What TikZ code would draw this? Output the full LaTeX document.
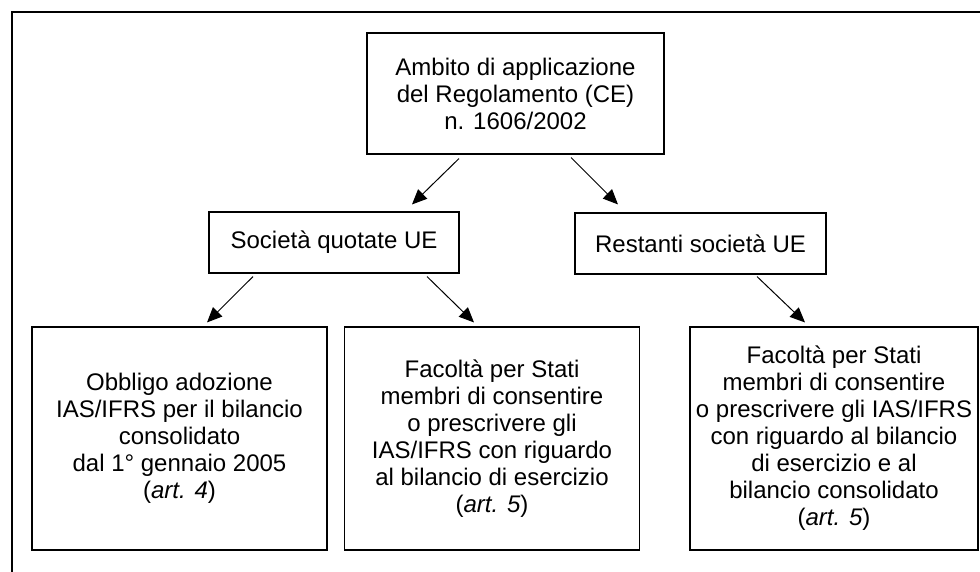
\documentclass[tikz,border=0pt]{standalone}
\usepackage{fontspec}
\setmainfont{Liberation Sans}
\usetikzlibrary{arrows.meta}
\begin{document}
\begin{tikzpicture}[x=1pt,y=-1pt,
  box/.style={draw, line width=1.1pt, align=center, inner sep=0pt, font=\fontsize{24}{27}\selectfont},
  arr/.style={line width=1pt, -{Triangle[length=15pt,width=13pt]}}]
\useasboundingbox (0,0) rectangle (980,572);
\fill[white] (0,0) rectangle (980,572);
\draw[line width=2.5pt] (12,572) -- (12,12) -- (980,12);

\node[box, minimum width=297pt, minimum height=121pt] (top) at (515.5,93.5)
  {Ambito di applicazione\\del Regolamento (CE)\\n. 1606/2002};
\node[box, minimum width=250pt, minimum height=61pt] (soc) at (334,242.5)
  {Società quotate UE};
\node[box, minimum width=251pt, minimum height=61pt] (rest) at (700.5,243.5)
  {Restanti società UE};
\node[box, minimum width=295pt, minimum height=223pt] (l) at (179.5,438.5)
  {Obbligo adozione\\IAS/IFRS per il bilancio\\consolidato\\dal 1° gennaio 2005\\(\textit{art. 4})};
\node[box, minimum width=295pt, minimum height=223pt] (m) at (492,438.5)
  {Facoltà per Stati\\membri di consentire\\o prescrivere gli\\IAS/IFRS con riguardo\\al bilancio di esercizio\\(\textit{art. 5})};
\node[box, minimum width=288pt, minimum height=223pt] (r) at (834,438.5)
  {Facoltà per Stati\\membri di consentire\\o prescrivere gli IAS/IFRS\\con riguardo al bilancio\\di esercizio e al\\bilancio consolidato\\(\textit{art. 5})};

\draw[arr] ([shift={(-56.5,4)}]top.south) -- ([shift={(78,-7)}]soc.north);
\draw[arr] ([shift={(55.5,3)}]top.south) -- ([shift={(-82.5,-8)}]rest.north);
\draw[arr] ([shift={(-81,3)}]soc.south) -- ([shift={(27.5,-4)}]l.north);
\draw[arr] ([shift={(93,3)}]soc.south) -- ([shift={(-18,-4)}]m.north);
\draw[arr] ([shift={(56.5,2)}]rest.south) -- ([shift={(-29,-4)}]r.north);
\end{tikzpicture}
\end{document}
